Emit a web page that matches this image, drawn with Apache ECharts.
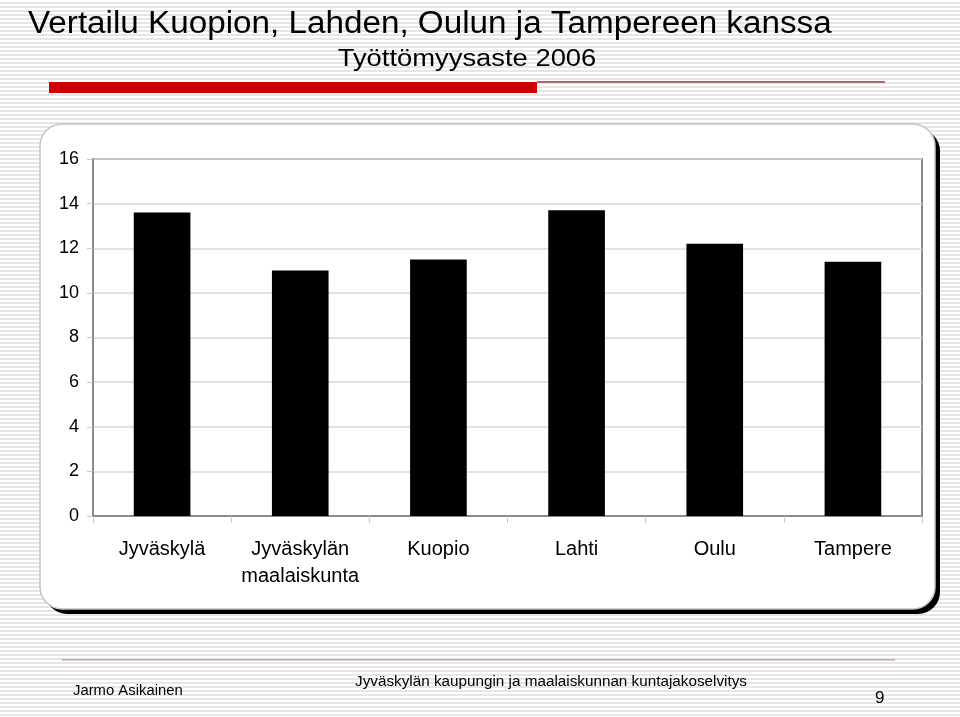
<!DOCTYPE html>
<html><head><meta charset="utf-8">
<script src="https://cdn.jsdelivr.net/npm/echarts@6/dist/echarts.min.js"></script>
<style>
html,body{margin:0;padding:0;}
#c{width:960px;height:717px;background:repeating-linear-gradient(to bottom,#ffffff 0px,#ffffff 2px,#e6e6e6 2px,#e6e6e6 4px);}
</style></head>
<body><div id="c"></div>
<script>
const categories = ['Jyväskylä', 'Jyväskylän\nmaalaiskunta', 'Kuopio', 'Lahti', 'Oulu', 'Tampere'];
const unemploymentRate = [13.6, 11.0, 11.5, 13.7, 12.2, 11.4];
const yTicks = [0, 2, 4, 6, 8, 10, 12, 14, 16];
const titleText = 'Vertailu Kuopion, Lahden, Oulun ja Tampereen kanssa';
const subtitleText = 'Työttömyysaste 2006';
const footerLeft = 'Jarmo Asikainen';
const footerCenter = 'Jyväskylän kaupungin ja maalaiskunnan kuntajakoselvitys';
const pageNumber = '9';

const chart = echarts.init(document.getElementById('c'), null, {renderer: 'canvas'});
const sans = '"Liberation Sans", Arial, sans-serif';
chart.setOption({
  animation: false,
  backgroundColor: 'transparent',
  graphic: [
    {type: 'rect', z: -11, shape: {x: 45, y: 129, width: 895, height: 485, r: 22}, style: {fill: '#000000'}},
    {type: 'rect', z: -10, shape: {x: 40, y: 124, width: 895, height: 485, r: 22},
     style: {fill: '#ffffff', stroke: '#c4c4c4', lineWidth: 1.5}},
    {type: 'rect', z: -5, shape: {x: 49, y: 82, width: 488, height: 11}, style: {fill: '#cc0000'}},
    {type: 'rect', z: -5, shape: {x: 537, y: 81, width: 348, height: 2}, style: {fill: '#a86a6a'}},
    {type: 'rect', z: -5, shape: {x: 62, y: 659, width: 833, height: 1.5}, style: {fill: '#c9a3a3'}},
    {type: 'text', x: 28, y: 9, scaleX: 1.072, style: {text: titleText, font: '31px ' + sans, fill: '#000'}},
    {type: 'text', x: 467, y: 48, scaleX: 1.19, style: {text: subtitleText, font: '23px ' + sans, fill: '#000', align: 'center'}},
    {type: 'text', x: 73, y: 684, scaleX: 1.06, style: {text: footerLeft, font: '14px ' + sans, fill: '#000'}},
    {type: 'text', x: 551, y: 675, scaleX: 1.09, style: {text: footerCenter, font: '14px ' + sans, fill: '#000', align: 'center'}},
    {type: 'text', x: 875, y: 690, style: {text: pageNumber, font: '17px ' + sans, fill: '#000'}}
  ],
  grid: {left: 93, right: 38, top: 159, bottom: 201, show: true, backgroundColor: '#ffffff', borderColor: '#8a8a8a', borderWidth: 2},
  xAxis: {
    type: 'category', data: categories,
    axisLine: {lineStyle: {color: '#8a8a8a', width: 2}},
    axisTick: {show: true, length: 7, lineStyle: {color: '#c8c8c8'}},
    axisLabel: {fontFamily: sans, fontSize: 20, color: '#000', margin: 20, lineHeight: 27, interval: 0}
  },
  yAxis: {
    type: 'value', min: 0, max: 16, interval: 2,
    axisLine: {show: true, lineStyle: {color: '#8a8a8a', width: 2}},
    axisTick: {show: true, length: 6, lineStyle: {color: '#c8c8c8'}},
    splitLine: {lineStyle: {color: '#d8d8d8', width: 1.5}},
    axisLabel: {fontFamily: sans, fontSize: 18, color: '#000', margin: 14,
      formatter: v => yTicks.includes(v) ? String(v) : ''}
  },
  series: [{
    type: 'bar', data: unemploymentRate, barWidth: '41%',
    itemStyle: {color: '#000000'}
  }]
});
</script></body></html>
